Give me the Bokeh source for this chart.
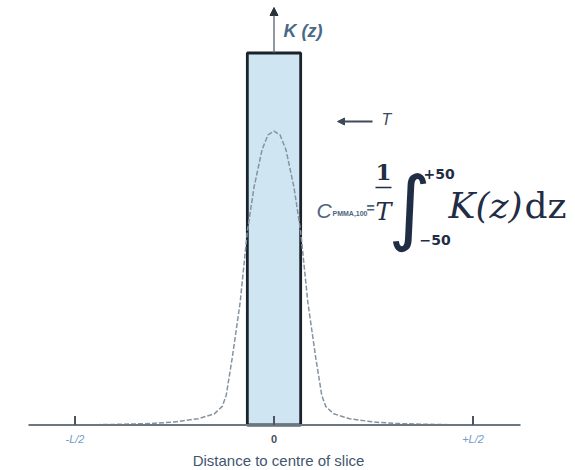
from bokeh.plotting import figure
from bokeh.models import ColumnDataSource, Range1d, Arrow, NormalHead
from bokeh.core.properties import value
from bokeh.embed import file_html
from bokeh.resources import INLINE

# ---- data -------------------------------------------------------------
# dose profile K(z) along the z axis (mm), relative to the slice-profile height
z_mm = [-50, -44, -38, -31, -25, -19, -15, -13, -12, -10.5, -8.5, -6.7, -6, -5, -4, -3, -1.5, 0,
        1.5, 3, 4, 5, 6, 6.7, 8.5, 10.5, 12, 13, 15, 19, 25, 31, 38, 44, 50]
k_rel = [0, 0.001, 0.002, 0.004, 0.008, 0.017, 0.03, 0.05, 0.08, 0.18, 0.33, 0.52, 0.57, 0.64, 0.69, 0.74, 0.78, 0.79,
         0.78, 0.74, 0.69, 0.64, 0.57, 0.52, 0.33, 0.18, 0.08, 0.05, 0.03, 0.017, 0.008, 0.004, 0.002, 0.001, 0]

# nominal slice: width T centred on 0, height 1
slice_left = [-6.7]
slice_right = [6.7]
slice_top = [1.0]

tick_values = [-50, 0, 50]
tick_labels = ["-L/2", "0", "+L/2"]

# ---- canvas mapping (pixel -> data) -------------------------------------
W, H = 575, 470
X0_PX, PX_PER_MM = 273.5, 3.98
Y0_PX, PX_PER_K = 424.5, 372.0


def zx(px):
    return (px - X0_PX) / PX_PER_MM


def ky(py):
    return (Y0_PX - py) / PX_PER_K


p = figure(width=W, height=H, output_backend="svg", toolbar_location=None,
           x_range=Range1d(zx(0), zx(W)), y_range=Range1d(ky(H), ky(0)),
           x_axis_type=None, y_axis_type=None, min_border=0)
p.outline_line_color = None
p.background_fill_color = "white"
p.border_fill_color = "white"


def put_text(px, py, txt, font="Liberation Sans", size="14px", style="normal",
             color="#333333", align="left", baseline="middle"):
    p.text(x=[zx(px)], y=[ky(py)], text=[txt], text_font=value(font),
           text_font_size=size, text_font_style=style, text_color=color,
           text_align=align, text_baseline=baseline)


# slice profile
p.quad(left=slice_left, right=slice_right, bottom=[0], top=slice_top,
       fill_color="#cfe5f1", line_color="#1a222b", line_width=2.8)

# measured dose profile
p.line(z_mm, k_rel, line_color="#8593a0", line_width=1.5, line_dash="5 2")

# z axis with ticks
p.segment(x0=[zx(28)], y0=[0], x1=[zx(520)], y1=[0], line_color="#6b7780", line_width=2)
p.segment(x0=tick_values, y0=[0] * 3, x1=tick_values, y1=[9 / PX_PER_K] * 3,
          line_color="#4d5560", line_width=2)

lab_src = ColumnDataSource(dict(
    x=tick_values, y=[ky(438)] * 3, text=tick_labels,
    color=["#6f9cc8" if t != "0" else "#4a4f57" for t in tick_labels],
    style=["italic" if t != "0" else "bold" for t in tick_labels],
))
p.text(x="x", y="y", text="text", source=lab_src, text_color="color",
       text_font_style="style", text_font=value("Liberation Sans"),
       text_font_size="11px", text_align="center", text_baseline="middle")

put_text(278, 460, "Distance to centre of slice", size="15px", color="#3f5670",
         align="center")

# K(z) axis arrow
p.add_layout(Arrow(end=NormalHead(size=8, fill_color="#2b3138", line_color="#2b3138"),
                   x_start=0, y_start=slice_top[0], x_end=0, y_end=ky(7),
                   line_color="#55606b", line_width=1.3))
put_text(283, 30, "K (z)", size="18px", style="bold italic", color="#4a6985")

# slice width marker
p.add_layout(Arrow(end=NormalHead(size=7, fill_color="#3d4a58", line_color="#3d4a58"),
                   x_start=zx(372), y_start=ky(121), x_end=zx(337), y_end=ky(121),
                   line_color="#3d4a58", line_width=2.2))
put_text(381, 119, "T", size="16px", style="italic", color="#3d4a58")

# CTDI definition
ink = "#4d6680"
math_ink = "#1f2d45"
put_text(316, 210, "C", size="21px", style="italic", color=ink)
put_text(332, 213, "PMMA,100", size="7px", style="bold", color=ink)
put_text(366, 207, "=", size="14px", style="bold", color=ink)
put_text(383, 171, "1", font="DejaVu Serif", size="23px", style="bold", color=math_ink,
         align="center")
p.segment(x0=[zx(375)], y0=[ky(187)], x1=[zx(391)], y1=[ky(187)],
          line_color=math_ink, line_width=1.5)
put_text(383, 211, "T", font="DejaVu Serif", size="24px", style="italic", color=math_ink,
         align="center")
put_text(409, 206, "\u222b", font="DejaVu Sans", size="82px", color=math_ink,
         align="center")
put_text(423, 173, "+50", font="DejaVu Sans", size="14px", style="bold", color=math_ink)
put_text(419, 239, "\u221250", font="DejaVu Sans", size="14px", style="bold", color=math_ink)
put_text(448, 205, "K(z)", font="DejaVu Serif", size="36px", style="italic", color=math_ink)
put_text(524, 205, "dz", font="DejaVu Serif", size="36px", color=math_ink)

open("out.html", "w").write(file_html(p, INLINE))
